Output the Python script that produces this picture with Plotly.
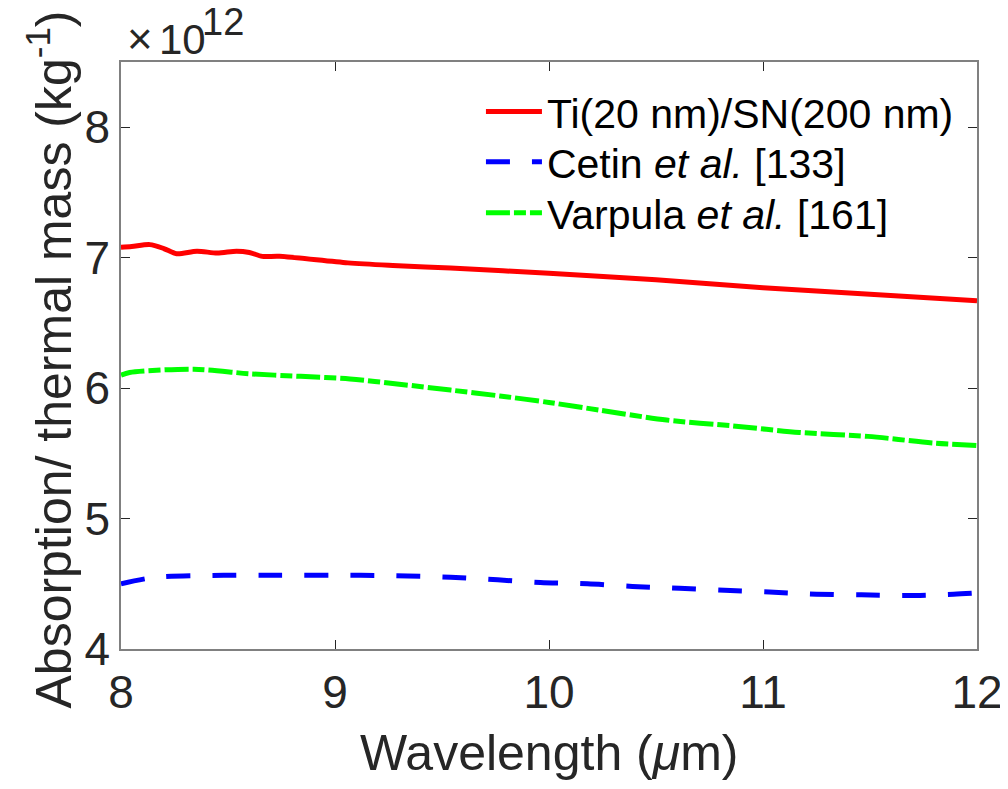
import plotly.graph_objects as go

# Wavelength (um) and absorption / thermal mass (x1e12 kg^-1)
ti_wl = [8.0, 8.05, 8.135, 8.2, 8.26, 8.355, 8.45, 8.54, 8.6, 8.66, 8.74, 9.06, 9.27, 9.54, 10.0, 10.5, 11.0, 11.5, 12.0]
ti_val = [7.08, 7.085, 7.10, 7.07, 7.03, 7.05, 7.035, 7.05, 7.04, 7.01, 7.01, 6.96, 6.94, 6.92, 6.88, 6.83, 6.77, 6.72, 6.67]

cetin_wl = [8.0, 8.16, 8.48, 8.68, 9.12, 9.34, 9.54, 9.76, 9.96, 10.18, 10.39, 10.61, 10.82, 11.03, 11.25, 11.46, 11.67, 11.89, 12.0]
cetin_val = [4.50, 4.55, 4.565, 4.565, 4.565, 4.56, 4.55, 4.53, 4.51, 4.50, 4.48, 4.465, 4.45, 4.437, 4.42, 4.415, 4.41, 4.42, 4.43]

varpula_wl = [8.0, 8.04, 8.34, 8.60, 8.84, 9.07, 9.30, 9.54, 9.77, 10.0, 10.24, 10.55, 10.86, 11.17, 11.49, 11.79, 12.0]
varpula_val = [6.10, 6.12, 6.145, 6.11, 6.09, 6.07, 6.03, 5.985, 5.94, 5.89, 5.83, 5.755, 5.71, 5.66, 5.63, 5.58, 5.56]

x_ticks = [8, 9, 10, 11, 12]
y_ticks = [4, 5, 6, 7, 8]

FONT = "Liberation Sans, Arial, sans-serif"
TXT = "#262626"

fig = go.Figure()
fig.add_trace(go.Scatter(x=ti_wl, y=ti_val, mode="lines", name="Ti(20 nm)/SN(200 nm)", legend="legend",
                         line=dict(color="#ff0000", width=5, shape="spline", smoothing=0.8)))
fig.add_trace(go.Scatter(x=cetin_wl, y=cetin_val, mode="lines", name="Cetin <i>et al.</i> [133]", legend="legend2",
                         line=dict(color="#0000ff", width=5, dash="24px,22px", shape="spline", smoothing=0.8)))
fig.add_trace(go.Scatter(x=varpula_wl, y=varpula_val, mode="lines", name="Varpula <i>et al.</i> [161]", legend="legend3",
                         line=dict(color="#00ff00", width=5, dash="24px,4px,12px,4px", shape="spline", smoothing=0.8)))

axis_common = dict(showline=True, linecolor="#808080", linewidth=1.5, mirror="ticks",
                   ticks="inside", ticklen=9, tickwidth=1.2, tickcolor="#262626",
                   showgrid=False, zeroline=False, automargin=False,
                   tickfont=dict(family=FONT, size=46, color=TXT))

legend_common = dict(x=0.4205, xanchor="left", yanchor="middle", bgcolor="rgba(0,0,0,0)",
                     font=dict(family=FONT, size=41, color="black"), itemwidth=56)

fig.update_layout(
    width=1000, height=781,
    margin=dict(l=113, r=31, t=54, b=140),
    paper_bgcolor="white", plot_bgcolor="white",
    font=dict(family=FONT, color=TXT),
    xaxis=dict(range=[8, 12], tickvals=x_ticks, ticktext=[str(v) for v in x_ticks],
               ticklabelstandoff=2, **axis_common),
    yaxis=dict(range=[4, 8.5], tickvals=y_ticks, ticktext=[str(v) for v in y_ticks],
               ticklabelstandoff=0, **axis_common),
    legend=dict(y=0.915, **legend_common),
    legend2=dict(y=0.8296, **legend_common),
    legend3=dict(y=0.7428, **legend_common),
    showlegend=True,
)

# axis titles
fig.add_annotation(text="Wavelength (<i>μ</i>m)", xref="paper", yref="paper", x=0.5, y=0,
                   xanchor="center", yanchor="middle", yshift=-104, showarrow=False,
                   font=dict(family=FONT, size=50, color=TXT))
fig.add_annotation(text="Absorption/ thermal mass (kg<sup>-1</sup>)", xref="paper", yref="paper", x=0, y=0.5,
                   xanchor="center", yanchor="middle", xshift=-72, yshift=-4, textangle=-90, showarrow=False,
                   font=dict(family=FONT, size=50, color=TXT))

# exponent label (×10^12)
fig.add_annotation(text="×", xref="paper", yref="paper", x=0, y=1, xanchor="left", yanchor="bottom",
                   xshift=4, yshift=-3, showarrow=False, font=dict(family=FONT, size=44, color=TXT))
fig.add_annotation(text="10", xref="paper", yref="paper", x=0, y=1, xanchor="left", yanchor="bottom",
                   xshift=36, yshift=-3, showarrow=False, font=dict(family=FONT, size=42, color=TXT))
fig.add_annotation(text="12", xref="paper", yref="paper", x=0, y=1, xanchor="left", yanchor="bottom",
                   xshift=79, yshift=17, showarrow=False, font=dict(family=FONT, size=38, color=TXT))

fig.write_html("out.html")
